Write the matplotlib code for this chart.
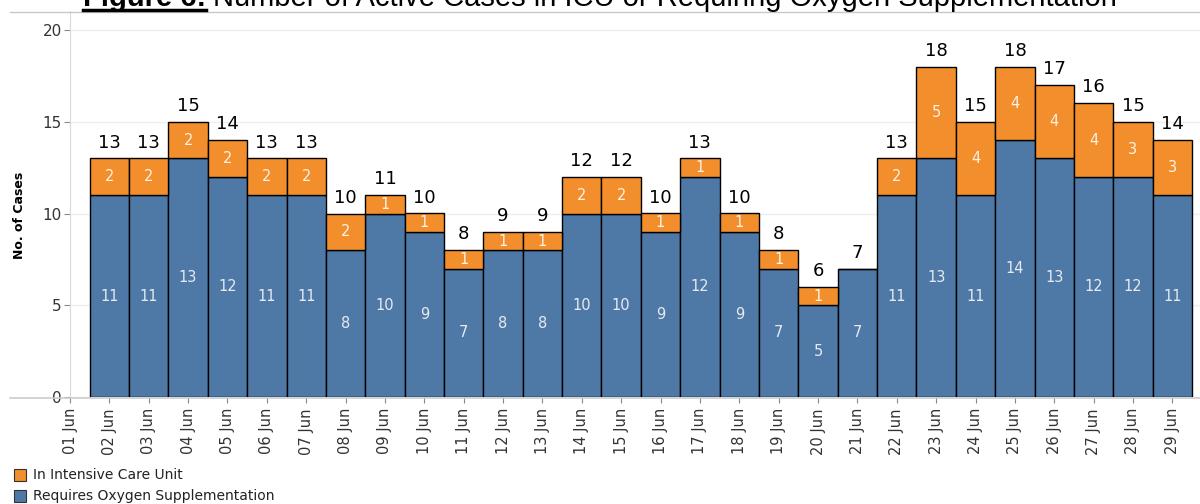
import pandas as pd
import numpy as np
import matplotlib
matplotlib.use('Agg')
import matplotlib.pyplot as plt
import matplotlib.dates as mdates
from matplotlib.lines import Line2D
from matplotlib.patches import Rectangle

#____________ Data ____________
dates = pd.date_range('2020-06-02', '2020-06-29', freq='D')
oxygen = [11, 11, 13, 12, 11, 11, 8, 10, 9, 7, 8, 8, 10, 10,
          9, 12, 9, 7, 5, 7, 11, 13, 11, 14, 13, 12, 12, 11]
icu = [2, 2, 2, 2, 2, 2, 2, 1, 1, 1, 1, 1, 2, 2,
       1, 1, 1, 1, 1, 0, 2, 5, 4, 4, 4, 4, 3, 3]
series_names = ['In Intensive Care Unit', 'Requires Oxygen Supplementation']
title_bold = 'Figure 6:'
title_rest = 'Number of Active Cases in ICU or Requiring Oxygen Supplementation'

blue = '#4e79a7'
orange = '#f28e2b'

#____________ Figure ____________
W, H = 1200, 504
fig = plt.figure(figsize=(12, 5.04), dpi=100)
ax = fig.add_axes([70 / W, 1 - 397 / H, 1 - 70 / W, (397 - 11) / H])

ox = np.array(oxygen)
ic = np.array(icu)
ax.bar(dates, ox, width=1.0, color=blue, edgecolor='black', linewidth=1, zorder=3)
ax.bar(dates, ic, width=1.0, bottom=ox, color=orange, edgecolor='black', linewidth=1, zorder=3)

# segment and total labels
for d, o, i in zip(dates, ox, ic):
    ax.text(d, o / 2, str(o), ha='center', va='center', color='#e6eaf0',
            fontsize=10.5, zorder=4)
    if i > 0:
        ax.text(d, o + i / 2, str(i), ha='center', va='center', color='#fdf3e8',
                fontsize=10.5, zorder=4)
    ax.annotate(str(o + i), (d, o + i), xytext=(0, 5), textcoords='offset points',
                ha='center', va='bottom', fontsize=13, color='black', zorder=4)

ax.set_ylim(0, (397 - 11) / 18.35)
ax.set_xlim(pd.Timestamp('2020-06-01'), pd.Timestamp('2020-06-01') + pd.Timedelta(days=(W - 70) / 39.37))
ax.set_yticks([0, 5, 10, 15, 20])
ax.grid(axis='y', color='#efefef', linewidth=1, zorder=0)
ax.xaxis.set_major_locator(mdates.DayLocator())
ax.xaxis.set_major_formatter(mdates.DateFormatter('%d %b'))
plt.setp(ax.get_xticklabels(), rotation=90, fontsize=10.5, color='#333333')
plt.setp(ax.get_yticklabels(), fontsize=11, color='#333333')
ax.tick_params(axis='x', length=4, color='#888888', pad=4)
ax.tick_params(axis='y', length=4, color='#888888', pad=2)
for s in ['top', 'right']:
    ax.spines[s].set_visible(False)
ax.spines['left'].set_color('#d9d9d9')
ax.spines['bottom'].set_visible(False)

# bottom axis line extends to the left edge (Tableau style)
fig.add_artist(Line2D([10 / W, 1], [1 - 398 / H, 1 - 398 / H], color='#cccccc', lw=1.2))
# separator under the title
fig.add_artist(Line2D([10 / W, 1], [1 - 11.5 / H, 1 - 11.5 / H], color='#c8c8c8', lw=1))

fig.text(20 / W, 1 - 215 / H, 'No. of Cases', rotation=90, ha='center', va='center',
         fontsize=9, fontweight='bold')

# title, partly cut at the top
tb = fig.text(206 / W, 1 - 6 / H, title_bold, ha='right', va='baseline',
              fontsize=21, fontweight='bold', family='Liberation Sans')
fig.text(213 / W, 1 - 6 / H, title_rest, ha='left', va='baseline',
         fontsize=21, family='Liberation Sans')
fig.canvas.draw()
bb = tb.get_window_extent()
fig.add_artist(Line2D([bb.x0 / W, bb.x1 / W], [1 - 9.5 / H, 1 - 9.5 / H], color='black', lw=2.5))

# legend
for k, (name, col) in enumerate(zip(series_names, [orange, blue])):
    y = 475 + k * 21
    fig.add_artist(Rectangle((14 / W, 1 - (y + 6) / H), 12 / W, 12 / H,
                             facecolor=col, edgecolor='#333333', lw=0.8))
    fig.text(33 / W, 1 - y / H, name, ha='left', va='center', fontsize=10, color='#222222')

fig.savefig('out.png', dpi=100)
